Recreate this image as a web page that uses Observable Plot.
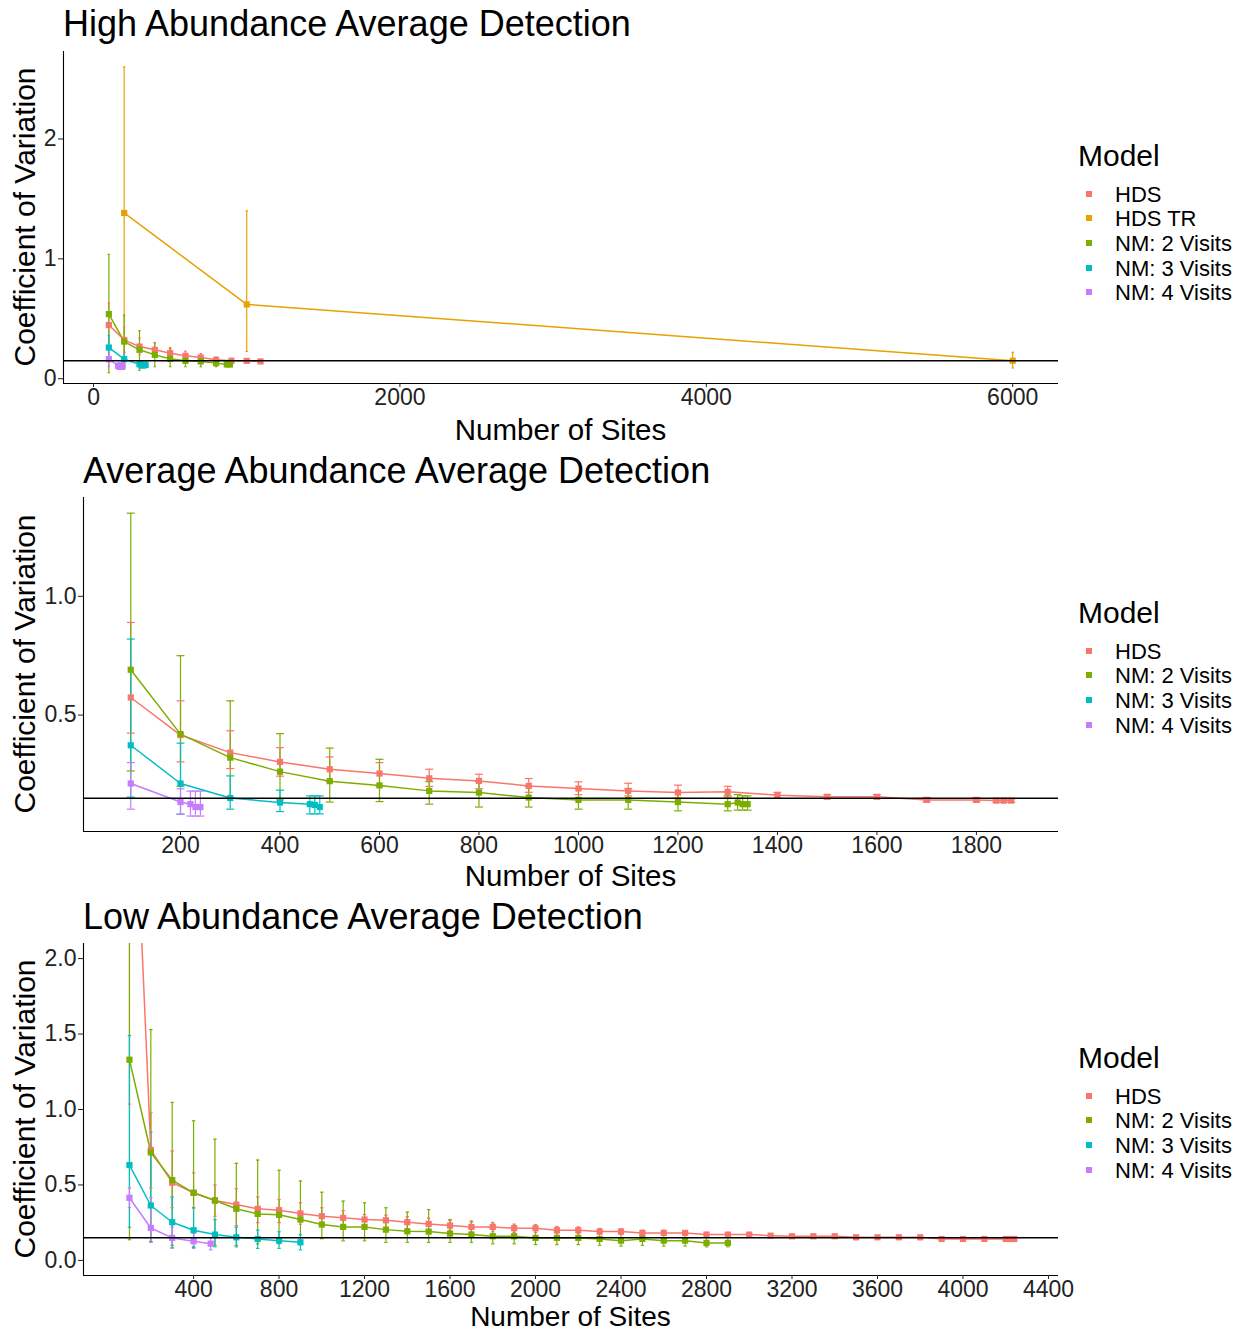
<!DOCTYPE html>
<html><head><meta charset="utf-8">
<script src="https://cdn.jsdelivr.net/npm/d3@7"></script>
<script src="https://cdn.jsdelivr.net/npm/@observablehq/plot@0.6"></script>
<style>
body{margin:0;background:#fff;}
#root{position:relative;width:1253px;height:1333px;overflow:hidden;font-family:"Liberation Sans",Arial,sans-serif;color:#000;background:#fff;}
.t{position:absolute;white-space:nowrap;line-height:0.85;}
.panel{position:absolute;left:0;}
.key{position:absolute;width:6px;height:6px;}
</style></head><body><div id="root"></div>
<script>
// ---------- Models / colours ----------
const models = ["HDS", "HDS TR", "NM: 2 Visits", "NM: 3 Visits", "NM: 4 Visits"];
const modelColors = ["#F8766D", "#E6A200", "#7CAE00", "#00BFC4", "#C77CFF"];
const refLine = 0.15;

// ---------- High abundance ----------
const highHDS_sites = [100,200,300,400,500,600,700,800,900,1000,1090];
const highHDS_cv    = [0.448,0.324,0.268,0.241,0.213,0.191,0.177,0.158,0.149,0.149,0.144];
const highHDS_lo    = [0.27,0.22,0.2,0.19,0.17,0.16,0.15,0.14,0.13,0.135,0.13];
const highHDS_hi    = [0.63,0.43,0.34,0.3,0.26,0.23,0.21,0.18,0.17,0.165,0.16];
const highTR_sites  = [200,1000,6000];
const highTR_cv     = [1.383,0.62,0.15];
const highTR_lo     = [0.16,0.227,0.09];
const highTR_hi     = [2.6,1.40,0.22];
const highNM2_sites = [100,200,300,400,500,600,700,800,870,890];
const highNM2_cv    = [0.539,0.31,0.241,0.199,0.166,0.149,0.144,0.13,0.119,0.119];
const highNM2_lo    = [0.05,0.08,0.07,0.1,0.1,0.1,0.1,0.1,0.1,0.1];
const highNM2_hi    = [1.037,0.53,0.40,0.3,0.25,0.2,0.19,0.16,0.14,0.14];
const highNM3_sites = [100,200,300,320,340];
const highNM3_cv    = [0.26,0.163,0.12,0.11,0.115];
const highNM3_lo    = [0.16,0.1,0.09,0.09,0.09];
const highNM3_hi    = [0.36,0.22,0.14,0.14,0.14];
const highNM4_sites = [100,160,170,180,190];
const highNM4_cv    = [0.163,0.108,0.1,0.1,0.108];
const highNM4_lo    = [0.1,0.08,0.08,0.08,0.08];
const highNM4_hi    = [0.22,0.13,0.13,0.13,0.13];

// ---------- Average abundance ----------
const avgHDS_sites = [100,200,300,400,500,600,700,800,900,1000,1100,1200,1300,1400,1500,1600,1700,1800,1840,1855,1870];
const avgHDS_cv    = [0.574,0.416,0.342,0.303,0.272,0.254,0.234,0.223,0.202,0.191,0.181,0.174,0.177,0.163,0.156,0.156,0.143,0.143,0.14,0.14,0.14];
const avgHDS_lo    = [0.424,0.303,0.275,0.243,0.22,0.2,0.2,0.19,0.175,0.165,0.16,0.152,0.155,0.15,0.148,0.148,0.135,0.135,0.133,0.133,0.133];
const avgHDS_hi    = [0.89,0.56,0.434,0.363,0.324,0.30,0.272,0.251,0.233,0.219,0.213,0.205,0.2,0.175,0.165,0.165,0.153,0.153,0.147,0.147,0.147];
const avgNM2_sites = [100,200,300,400,500,600,700,800,900,1000,1100,1200,1300,1320,1330,1340];
const avgNM2_cv    = [0.691,0.42,0.321,0.262,0.222,0.204,0.181,0.174,0.153,0.143,0.143,0.134,0.125,0.132,0.125,0.125];
const avgNM2_lo    = [0.265,0.2,0.153,0.143,0.134,0.136,0.125,0.113,0.113,0.104,0.104,0.097,0.097,0.1,0.1,0.1];
const avgNM2_hi    = [1.35,0.75,0.56,0.422,0.361,0.314,0.22,0.22,0.2,0.19,0.19,0.175,0.16,0.165,0.16,0.16];
const avgNM3_sites = [100,200,300,400,460,470,480];
const avgNM3_cv    = [0.373,0.212,0.151,0.132,0.125,0.122,0.113];
const avgNM3_lo    = [0.155,0.083,0.104,0.094,0.084,0.084,0.084];
const avgNM3_hi    = [0.82,0.382,0.244,0.184,0.16,0.16,0.16];
const avgNM4_sites = [100,200,220,230,240];
const avgNM4_cv    = [0.212,0.134,0.125,0.113,0.113];
const avgNM4_lo    = [0.104,0.083,0.075,0.075,0.075];
const avgNM4_hi    = [0.30,0.19,0.18,0.18,0.18];

// ---------- Low abundance ----------
const lowHDS_sites = [100,200,300,400,500,600,700,800,900,1000,1100,1200,1300,1400,1500,1600,1700,1800,1900,2000,2100,2200,2300,2400,2500,2600,2700,2800,2900,3000,3100,3200,3300,3400,3500,3600,3700,3800,3900,4000,4100,4200,4220,4240];
const lowHDS_cv    = [4.0,0.732,0.515,0.448,0.397,0.37,0.342,0.333,0.311,0.293,0.282,0.271,0.266,0.253,0.242,0.231,0.222,0.222,0.213,0.213,0.2,0.2,0.191,0.191,0.182,0.182,0.182,0.171,0.171,0.171,0.164,0.16,0.16,0.16,0.153,0.153,0.153,0.153,0.142,0.142,0.142,0.142,0.142,0.142];
const lowHDS_lo    = [1.036,0.48,0.349,0.344,0.293,0.231,0.25,0.25,0.24,0.23,0.22,0.22,0.22,0.21,0.2,0.2,0.19,0.19,0.185,0.185,0.178,0.178,0.172,0.172,0.166,0.166,0.166,0.158,0.158,0.158,0.154,0.15,0.15,0.15,0.146,0.146,0.146,0.146,0.136,0.136,0.136,0.136,0.136,0.136];
const lowHDS_hi    = [7.0,0.98,0.725,0.58,0.5,0.475,0.42,0.404,0.382,0.349,0.33,0.304,0.3,0.29,0.28,0.265,0.255,0.252,0.24,0.238,0.225,0.222,0.212,0.21,0.2,0.2,0.198,0.186,0.185,0.184,0.176,0.17,0.17,0.17,0.162,0.162,0.162,0.161,0.15,0.15,0.15,0.15,0.15,0.15];
const lowNM2_sites = [100,200,300,400,500,600,700,800,900,1000,1100,1200,1300,1400,1500,1600,1700,1800,1900,2000,2100,2200,2300,2400,2500,2600,2700,2800,2900];
const lowNM2_cv    = [1.33,0.715,0.532,0.448,0.397,0.342,0.308,0.302,0.271,0.238,0.222,0.222,0.204,0.193,0.191,0.178,0.171,0.16,0.16,0.149,0.149,0.149,0.142,0.131,0.142,0.131,0.131,0.116,0.116];
const lowNM2_lo    = [0.137,0.126,0.085,0.085,0.1,0.1,0.11,0.11,0.12,0.144,0.13,0.13,0.12,0.12,0.12,0.12,0.12,0.11,0.11,0.105,0.105,0.105,0.1,0.095,0.1,0.095,0.095,0.09,0.09];
const lowNM2_hi    = [2.6,1.53,1.047,0.925,0.803,0.643,0.665,0.597,0.526,0.452,0.393,0.382,0.349,0.32,0.337,0.271,0.26,0.24,0.23,0.22,0.21,0.2,0.19,0.18,0.19,0.175,0.175,0.16,0.16];
const lowNM3_sites = [100,200,300,400,500,600,700,800,900];
const lowNM3_cv    = [0.632,0.364,0.253,0.2,0.171,0.153,0.142,0.131,0.12];
const lowNM3_lo    = [0.22,0.12,0.1,0.09,0.09,0.09,0.08,0.08,0.07];
const lowNM3_hi    = [1.49,0.85,0.42,0.35,0.27,0.22,0.2,0.19,0.17];
const lowNM4_sites = [100,200,300,400,480];
const lowNM4_cv    = [0.415,0.215,0.149,0.127,0.111];
const lowNM4_lo    = [0.35,0.12,0.08,0.08,0.07];
const lowNM4_hi    = [0.48,0.417,0.22,0.18,0.15];

// ---------- Tick labels ----------
const highXTicks = [0,2000,4000,6000];
const highYTicks = [0,1,2];
const avgXTicks = [200,400,600,800,1000,1200,1400,1600,1800];
const avgYTicks = [0.5,1.0];
const lowXTicks = [400,800,1200,1600,2000,2400,2800,3200,3600,4000,4400];
const lowYTicks = [0,0.5,1.0,1.5,2.0];

// ---------- helpers ----------
function rows(model, sites, cv, lo, hi) {
  return sites.map((s, i) => ({model, sites: s, cv: cv[i], lo: lo[i], hi: hi[i]}));
}
const highData = [
  ...rows("HDS", highHDS_sites, highHDS_cv, highHDS_lo, highHDS_hi),
  ...rows("HDS TR", highTR_sites, highTR_cv, highTR_lo, highTR_hi),
  ...rows("NM: 2 Visits", highNM2_sites, highNM2_cv, highNM2_lo, highNM2_hi),
  ...rows("NM: 3 Visits", highNM3_sites, highNM3_cv, highNM3_lo, highNM3_hi),
  ...rows("NM: 4 Visits", highNM4_sites, highNM4_cv, highNM4_lo, highNM4_hi)
];
const avgData = [
  ...rows("HDS", avgHDS_sites, avgHDS_cv, avgHDS_lo, avgHDS_hi),
  ...rows("NM: 2 Visits", avgNM2_sites, avgNM2_cv, avgNM2_lo, avgNM2_hi),
  ...rows("NM: 3 Visits", avgNM3_sites, avgNM3_cv, avgNM3_lo, avgNM3_hi),
  ...rows("NM: 4 Visits", avgNM4_sites, avgNM4_cv, avgNM4_lo, avgNM4_hi)
];
const lowData = [
  ...rows("HDS", lowHDS_sites, lowHDS_cv, lowHDS_lo, lowHDS_hi),
  ...rows("NM: 2 Visits", lowNM2_sites, lowNM2_cv, lowNM2_lo, lowNM2_hi),
  ...rows("NM: 3 Visits", lowNM3_sites, lowNM3_cv, lowNM3_lo, lowNM3_hi),
  ...rows("NM: 4 Visits", lowNM4_sites, lowNM4_cv, lowNM4_lo, lowNM4_hi)
];

const root = document.getElementById("root");
const FONT = '"Liberation Sans", Arial, sans-serif';
const CAP = 8; // half-width of error-bar caps in data units
const LH = 0.85;
const BASE_OFF = (LH - 1.117) / 2 + 0.905; // baseline offset from box top, in em
const LEG_FONT = 22, LEG_STEP = 24.7;
const TICK_FONT = 23;

function addText(txt, {left, base, size, anchor = "start", color = "#000"}) {
  const d = document.createElement("div");
  d.className = "t";
  d.textContent = txt;
  d.style.fontSize = size + "px";
  d.style.color = color;
  d.style.top = (base - BASE_OFF * size) + "px";
  d.style.left = left + "px";
  if (anchor === "middle") d.style.transform = "translateX(-50%)";
  root.appendChild(d);
}
function addYTitle(txt, cx, cy, size) {
  const d = document.createElement("div");
  d.className = "t";
  d.textContent = txt;
  d.style.fontSize = size + "px";
  d.style.lineHeight = "1";
  d.style.left = cx + "px";
  d.style.top = cy + "px";
  d.style.transform = "translate(-50%,-50%) rotate(-90deg)";
  root.appendChild(d);
}

function panel(cfg) {
  const mt = 10, mb = 40, W = 1060;
  const H = (cfg.bottom - cfg.top) + mt + mb;
  const dom = cfg.models;
  const rng = dom.map(m => modelColors[models.indexOf(m)]);
  const plot = Plot.plot({
    width: W, height: H,
    marginLeft: cfg.left, marginRight: W - 1058, marginTop: mt, marginBottom: mb,
    style: {fontFamily: FONT, color: "#222", background: "transparent", overflow: "visible"},
    x: {domain: cfg.xDomain},
    y: {domain: cfg.yDomain},
    color: {domain: dom, range: rng},
    marks: [
      Plot.ruleX(cfg.data, {x: "sites", y1: "lo", y2: "hi", stroke: "model", strokeWidth: 1.2, clip: true}),
      Plot.link(cfg.data, {x1: d => d.sites - CAP, x2: d => d.sites + CAP, y1: "hi", y2: "hi", stroke: "model", strokeWidth: 1.2, clip: true}),
      Plot.link(cfg.data, {x1: d => d.sites - CAP, x2: d => d.sites + CAP, y1: "lo", y2: "lo", stroke: "model", strokeWidth: 1.2, clip: true}),
      Plot.line(cfg.data, {x: "sites", y: "cv", z: "model", stroke: "model", strokeWidth: 1.5, clip: true}),
      Plot.dot(cfg.data, {x: "sites", y: "cv", fill: "model", symbol: "square", r: 3.5, clip: true}),
      Plot.ruleY([refLine], {stroke: "#000", strokeWidth: 1.3}),
      Plot.ruleX([cfg.xDomain[0]], {stroke: "#000", strokeWidth: 1.1}),
      Plot.ruleY([cfg.yDomain[0]], {stroke: "#000", strokeWidth: 1.1}),
      Plot.axisX({ticks: cfg.xTicks, tickFormat: d3.format("d"), tickSize: 4, tickPadding: 1, fontSize: TICK_FONT, label: null}),
      Plot.axisY({ticks: cfg.yTicks, tickFormat: cfg.yFmt, tickSize: 5, tickPadding: 2, fontSize: TICK_FONT, label: null})
    ]
  });
  const wrap = document.createElement("div");
  wrap.className = "panel";
  wrap.style.top = (cfg.top - mt) + "px";
  wrap.appendChild(plot);
  root.appendChild(wrap);

  addText(cfg.title, {left: cfg.left, base: cfg.titleBase, size: 36});
  addText("Number of Sites", {left: (cfg.left + 1058) / 2, base: cfg.xTitleBase, size: cfg.xTitleSize, anchor: "middle"});
  addYTitle("Coefficient of Variation", 25, (cfg.top + cfg.bottom) / 2, 30);

  // legend
  addText("Model", {left: 1078, base: cfg.legendBase, size: 30});
  dom.forEach((m, i) => {
    const base = cfg.legendBase + 36 + i * LEG_STEP;
    addText(m, {left: 1115, base, size: LEG_FONT});
    const k = document.createElement("div");
    k.className = "key";
    k.style.left = "1086px";
    k.style.top = (base - 12) + "px";
    k.style.background = modelColors[models.indexOf(m)];
    root.appendChild(k);
  });
}

panel({
  data: highData, models: models,
  left: 63, top: 51, bottom: 383,
  xDomain: [-196, 6299], yDomain: [-0.04, 2.73],
  xTicks: highXTicks, yTicks: highYTicks, yFmt: d3.format("d"),
  title: "High Abundance Average Detection", titleBase: 37, xTitleBase: 440, xTitleSize: 29.5, legendBase: 166.5
});
panel({
  data: avgData, models: ["HDS", "NM: 2 Visits", "NM: 3 Visits", "NM: 4 Visits"],
  left: 83, top: 497, bottom: 831,
  xDomain: [5, 1965], yDomain: [0.01, 1.416],
  xTicks: avgXTicks, yTicks: avgYTicks, yFmt: d3.format(".1f"),
  title: "Average Abundance Average Detection", titleBase: 484, xTitleBase: 886, xTitleSize: 29.5, legendBase: 623.5
});
panel({
  data: lowData, models: ["HDS", "NM: 2 Visits", "NM: 3 Visits", "NM: 4 Visits"],
  left: 83, top: 943, bottom: 1275,
  xDomain: [-115, 4447], yDomain: [-0.1, 2.1],
  xTicks: lowXTicks, yTicks: lowYTicks, yFmt: d3.format(".1f"),
  title: "Low Abundance Average Detection", titleBase: 930, xTitleBase: 1326.8, xTitleSize: 28, legendBase: 1068.5
});
</script>
</body></html>
